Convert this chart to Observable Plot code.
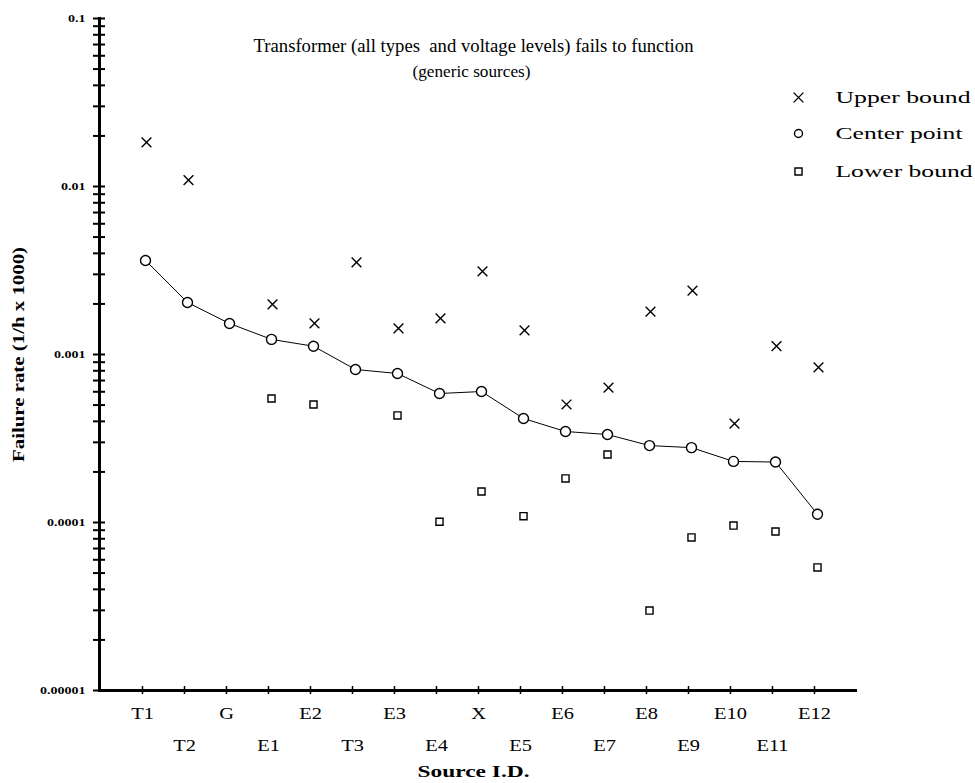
<!DOCTYPE html>
<html><head><meta charset="utf-8">
<script src="https://cdn.jsdelivr.net/npm/d3@7"></script>
<script src="https://cdn.jsdelivr.net/npm/@observablehq/plot@0.6"></script>
<style>
body{margin:0;background:#fff}
svg{font-family:"Liberation Serif","Times New Roman",serif}
</style>
</head><body><div id="chart"></div>
<script>
const sources = ["T1","T2","G","E1","E2","T3","E3","E4","X","E5","E6","E7","E8","E9","E10","E11","E12"];
const upperBound = [0.0183,0.0109,null,0.00199,0.00153,0.00353,0.00143,0.00164,0.00312,0.00139,0.000504,0.000636,0.0018,0.0024,0.000388,0.00112,0.000837];
const centerPoint = [0.00363,0.00204,0.00153,0.00123,0.00112,0.000814,0.000771,0.000586,0.000602,0.000416,0.000348,0.000334,0.000287,0.000279,0.000231,0.000229,0.000112];
const lowerBound = [null,null,null,0.000547,0.000504,null,0.000434,0.000101,0.000153,0.000109,0.000183,0.000254,0.0000299,0.0000815,0.0000959,0.0000884,0.000054];
const decadeTicks = [0.00001,0.0001,0.001,0.01,0.1];
const decadeLabels = ["0.00001","0.0001","0.001","0.01","0.1"];
const legendItems = ["Upper bound","Center point","Lower bound"];
const titleText = "Transformer (all types  and voltage levels) fails to function";
const subtitleText = "(generic sources)";
const xLabel = "Source I.D.";
const yLabel = "Failure rate (1/h x 1000)";

const rows = sources.map((s, i) => ({source: s, upper: upperBound[i], center: centerPoint[i], lower: lowerBound[i]}));
const minorTicks = [];
for (let e = -5; e <= -2; e++) for (let k = 1; k <= 9; k++) minorTicks.push(+(k * Math.pow(10, e)).toPrecision(3));
minorTicks.push(0.1);

const row1 = new Set(sources.filter((d, i) => i % 2 === 0));
const row2 = new Set(sources.filter((d, i) => i % 2 === 1));

const legendMarks = [];
const legendSymbols = ["times", "circle", "square"];
const legendDy = [79, 115, 153];
legendItems.forEach((t, i) => {
  legendMarks.push(Plot.dot([t], {frameAnchor: "top-left", dx: 699, dy: legendDy[i], symbol: legendSymbols[i], r: i === 0 ? 4.5 : 4, stroke: "black", strokeWidth: 1.4, fill: "none"}));
  legendMarks.push(Plot.text([t], {frameAnchor: "top-left", dx: 736, dy: legendDy[i], textAnchor: "start", lineAnchor: "middle", fontSize: 17, fill: "black"}));
});

const chart = Plot.plot({
  width: 975,
  height: 783,
  marginLeft: 99,
  marginRight: 118,
  marginTop: 18,
  marginBottom: 93,
  style: {fontFamily: "Liberation Serif, serif", background: "white", color: "black"},
  x: {type: "point", domain: sources, padding: 1, axis: null},
  y: {type: "log", domain: [0.00001, 0.1], axis: null},
  marks: [
    Plot.frame({anchor: "left", strokeWidth: 3, stroke: "black"}),
    Plot.ruleY([0.00001], {strokeWidth: 3, stroke: "black"}),
    Plot.axisY({ticks: minorTicks, tickSize: 12, dx: 6, tickFormat: () => "", strokeWidth: 2, label: null}),
    Plot.axisY({ticks: decadeTicks, tickSize: 0, tickPadding: 14, tickFormat: d => decadeLabels[decadeTicks.indexOf(d)], fontSize: 11, fontWeight: "bold", label: null}),
    Plot.axisX({tickSize: 8, dy: -4, tickFormat: () => "", strokeWidth: 1.5, label: null}),
    Plot.axisX({tickSize: 0, tickPadding: 16, tickFormat: d => row1.has(d) ? d : "", fontSize: 17, label: null}),
    Plot.axisX({tickSize: 0, tickPadding: 48, tickFormat: d => row2.has(d) ? d : "", fontSize: 17, label: null}),
    Plot.text([xLabel], {frameAnchor: "bottom", dy: 81, dx: -5, lineAnchor: "middle", textAnchor: "middle", fontSize: 16, fontWeight: "bold"}),
    Plot.text([yLabel], {frameAnchor: "left", dx: -81, rotate: -90, lineAnchor: "middle", textAnchor: "middle", fontSize: 16, fontWeight: "bold"}),
    Plot.text([titleText], {frameAnchor: "top", dy: 27, dx: -5, lineAnchor: "middle", textAnchor: "middle", fontSize: 19}),
    Plot.text([subtitleText], {frameAnchor: "top", dy: 53, dx: -7, lineAnchor: "middle", textAnchor: "middle", fontSize: 17}),
    Plot.line(rows, {x: "source", y: "center", stroke: "black", strokeWidth: 1, dx: 3}),
    Plot.dot(rows.filter(d => d.upper != null), {x: "source", y: "upper", symbol: "times", r: 4.5, stroke: "black", strokeWidth: 1.4, dx: 4}),
    Plot.dot(rows, {x: "source", y: "center", symbol: "circle", r: 5, stroke: "black", strokeWidth: 1.4, fill: "white", dx: 3}),
    Plot.dot(rows.filter(d => d.lower != null), {x: "source", y: "lower", symbol: "square", r: 4, stroke: "black", strokeWidth: 1.4, fill: "white", dx: 3}),
    ...legendMarks
  ]
});
document.getElementById("chart").appendChild(chart);

// widen text horizontally to match the stretched look of the original
const targetWidths = new Map([
  [titleText, 440], [subtitleText, 118], [xLabel, 112], [yLabel, 215],
  ["Upper bound", 135], ["Center point", 127], ["Lower bound", 137]
]);
const srcSet = new Set(sources), decSet = new Set(decadeLabels);
d3.select(chart).selectAll("text").each(function() {
  const t = this.textContent;
  if (!t) return;
  const w = this.getComputedTextLength();
  let target = null;
  if (targetWidths.has(t)) target = targetWidths.get(t);
  else if (srcSet.has(t)) target = w * 1.2;
  else if (decSet.has(t)) target = w * 1.27;
  if (target && w > 0) {
    this.setAttribute("textLength", target);
    this.setAttribute("lengthAdjust", "spacingAndGlyphs");
  }
});
</script>
</body></html>
